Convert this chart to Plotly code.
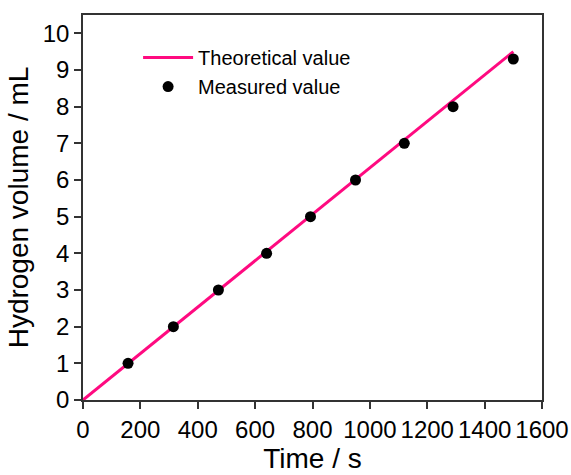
import plotly.graph_objects as go

theory_time = [0, 1500]
theory_volume = [0, 9.5]
meas_time = [157, 315, 472, 640, 793, 950, 1120, 1290, 1500]
meas_volume = [1, 2, 3, 4, 5, 6, 7, 8, 9.3]
x_ticks = [0, 200, 400, 600, 800, 1000, 1200, 1400, 1600]
y_ticks = [0, 1, 2, 3, 4, 5, 6, 7, 8, 9, 10]

fig = go.Figure()
fig.add_trace(go.Scatter(x=theory_time, y=theory_volume, mode="lines",
                         name="Theoretical value",
                         line=dict(color="#FF0A80", width=3)))
fig.add_trace(go.Scatter(x=meas_time, y=meas_volume, mode="markers",
                         name="Measured value",
                         marker=dict(color="black", size=11)))

font = "Liberation Sans, Arial, sans-serif"
axis_common = dict(showgrid=False, zeroline=False, showline=True, mirror=True,
                   linecolor="#333333", linewidth=1.5, ticks="outside",
                   ticklen=7, tickwidth=1.5, tickcolor="#333333",
                   automargin=False,
                   tickfont=dict(family=font, size=24, color="black"))

fig.update_layout(
    width=571, height=475,
    margin=dict(l=83, r=29, t=15, b=75),
    paper_bgcolor="white", plot_bgcolor="white",
    showlegend=True,
    legend=dict(x=0.12, y=0.94, xanchor="left", yanchor="top",
                bgcolor="rgba(0,0,0,0)", itemwidth=50,
                font=dict(family=font, size=20, color="black")),
    xaxis=dict(range=[0, 1600], tickvals=x_ticks,
               title=dict(text="Time / s", standoff=6,
                          font=dict(family=font, size=28, color="black")),
               **axis_common),
    yaxis=dict(range=[0, 10.5], tickvals=y_ticks,
               title=dict(text="Hydrogen volume / mL", standoff=6,
                          font=dict(family=font, size=28, color="black")),
               **axis_common),
)
fig.write_html("out.html")
